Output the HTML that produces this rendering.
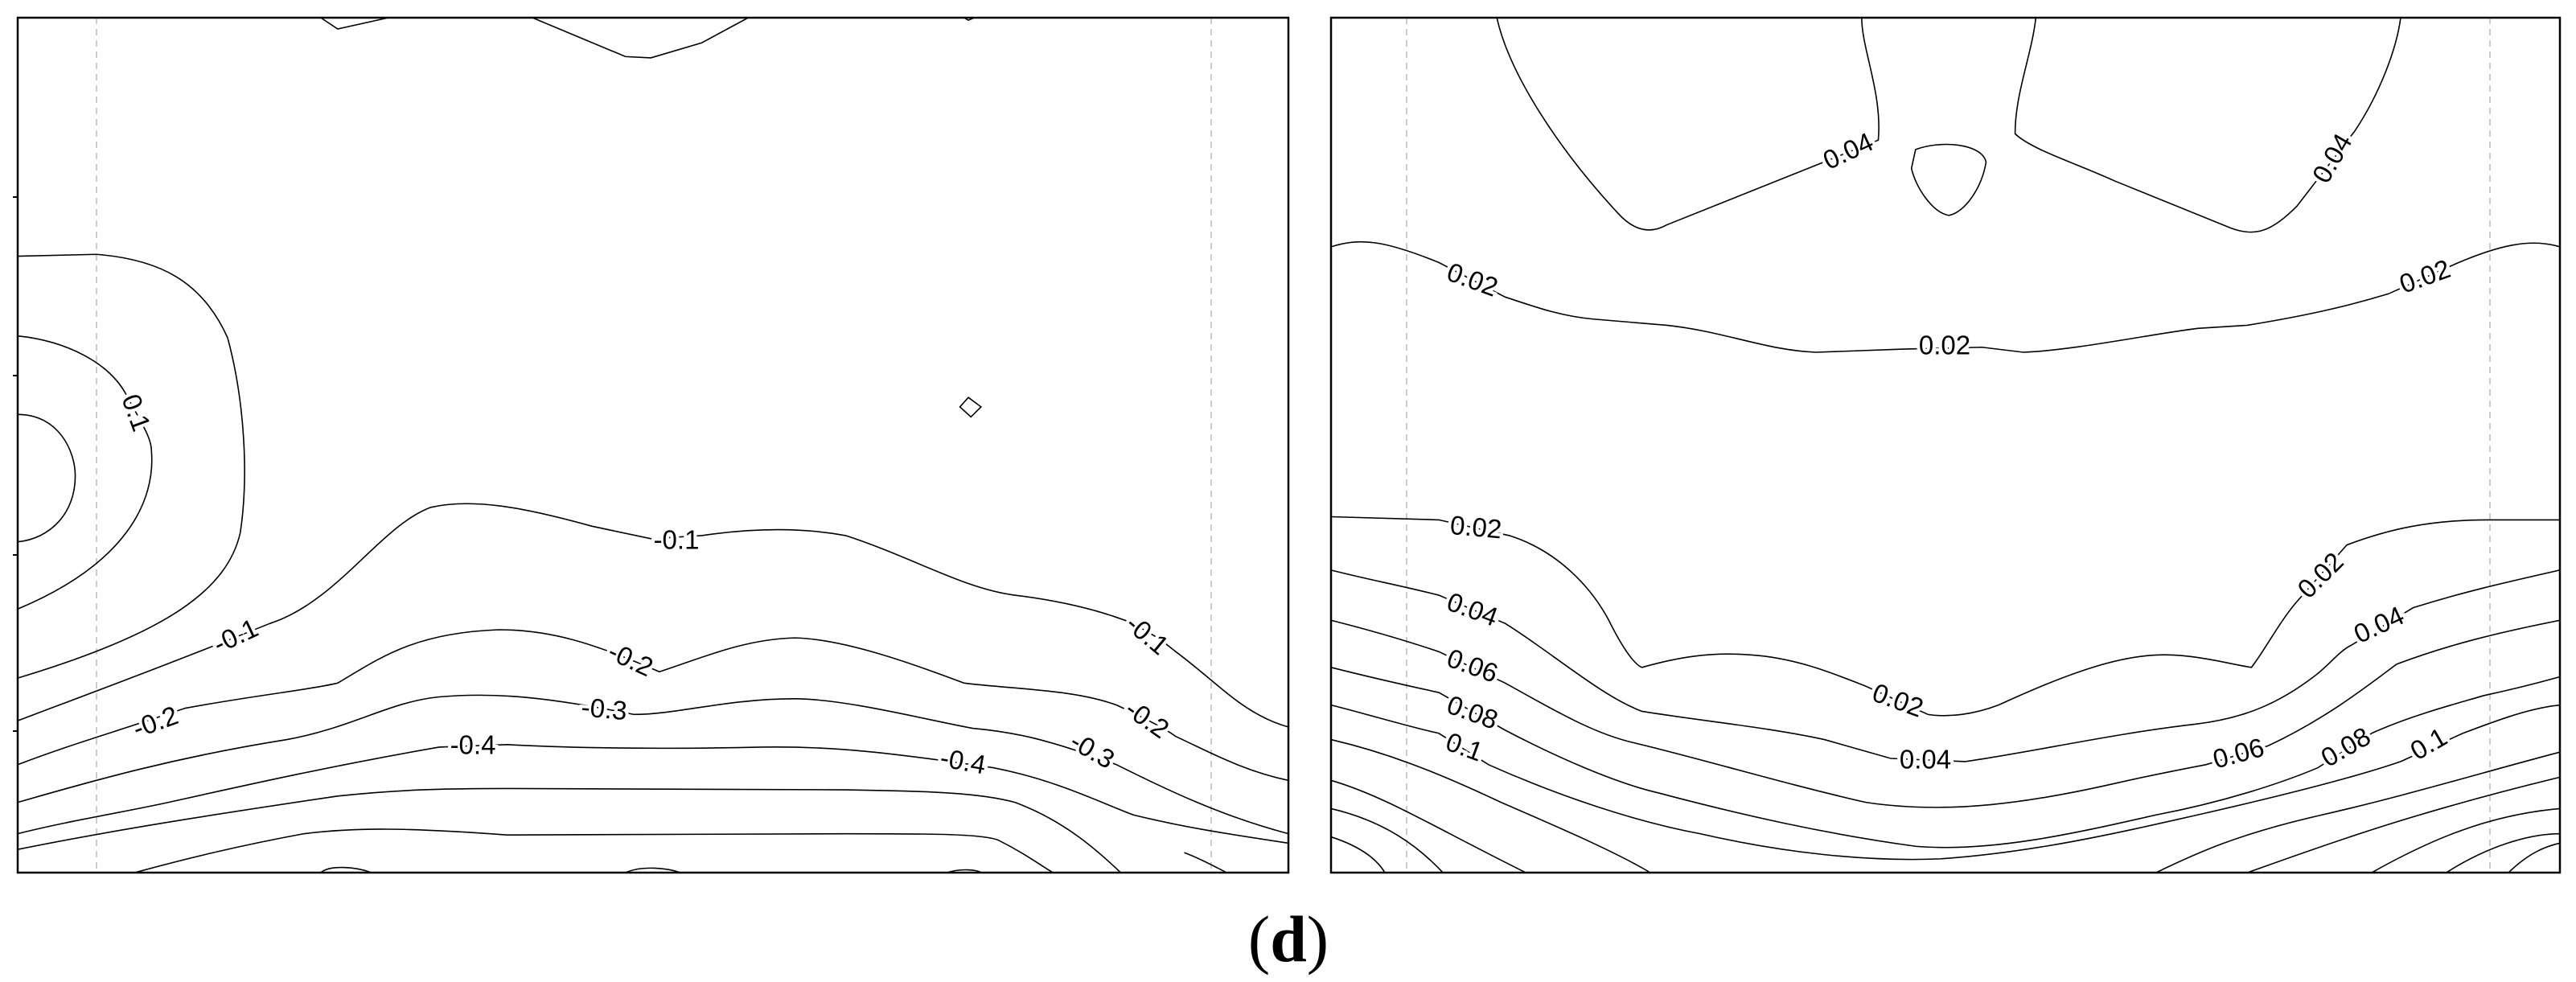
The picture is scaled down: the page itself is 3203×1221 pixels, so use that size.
<!DOCTYPE html>
<html><head><meta charset="utf-8"><style>
html,body{margin:0;padding:0;background:#fff;}
svg{display:block;}
.c{fill:none;stroke:#000;stroke-width:1.6;vector-effect:non-scaling-stroke;}
.d{stroke:#bbb;stroke-width:1.5;stroke-dasharray:8 6;}
.t{font-family:"Liberation Sans",sans-serif;font-size:33px;fill:#000;text-anchor:middle;dominant-baseline:middle;stroke:#fff;stroke-width:8px;paint-order:stroke;}
</style></head><body>
<svg width="3203" height="1221" viewBox="0 0 3203 1221" xmlns="http://www.w3.org/2000/svg">
<rect width="3203" height="1221" fill="#fff"/>
<line class="d" x1="120" y1="22" x2="120" y2="1085"/>
<line class="d" x1="1506" y1="22" x2="1506" y2="1085"/>
<line class="d" x1="1749" y1="22" x2="1749" y2="1085"/>
<line class="d" x1="3096" y1="22" x2="3096" y2="1085"/>
<g transform="translate(22,22) scale(1.0526,0.7805) translate(-22,-30)">
<path class="c" d="M380,30 L400,48 L460,30"/>
<path class="c" d="M630,30 L740,92 L770,94 L830,70 L885,30"/>
<path class="c" d="M1140,30 L1145,34 L1152,30"/>
<path class="c" d="M22,662 C70,662 90,720 90,760 C90,820 60,860 22,865"/>
<path class="c" d="M22,537 C80,545 130,580 150,630 C170,680 180,700 180,720 C185,800 150,900 22,972"/>
<path class="c" d="M22,410 L115,407 C190,415 240,450 270,540 C290,640 295,760 285,850 C270,940 200,1010 22,1082"/>
<path class="c" d="M1145,635 L1160,650 L1148,666 L1135,650 Z"/>
<path class="c" d="M22,1150 C120,1100 200,1060 320,995 C400,960 450,840 510,810 C560,795 620,810 700,840 L770,860 L830,855 C880,845 940,840 1000,855 C1080,890 1140,940 1200,950 C1260,960 1300,975 1330,990 C1370,1015 1380,1030 1390,1040 C1440,1090 1470,1140 1523,1160"/>
<path class="c" d="M22,1220 C80,1190 120,1175 220,1130 C300,1110 370,1100 400,1090 C450,1050 490,1010 590,1005 C650,1005 700,1025 780,1072 C830,1050 880,1020 940,1018 C1000,1020 1080,1060 1140,1090 C1200,1100 1270,1100 1320,1125 C1360,1150 1380,1165 1390,1175 C1430,1200 1470,1230 1523,1245"/>
<path class="c" d="M22,1280 C100,1250 200,1210 340,1180 C420,1160 460,1120 520,1112 C580,1105 640,1110 750,1140 C800,1140 860,1115 940,1115 C1000,1115 1100,1150 1150,1162 C1200,1168 1240,1180 1320,1220 C1380,1260 1440,1300 1523,1330"/>
<path class="c" d="M22,1330 C80,1310 150,1295 200,1280 C300,1250 400,1220 520,1192 L600,1188 C700,1195 800,1195 900,1192 C980,1190 1050,1200 1175,1225 C1250,1245 1300,1280 1340,1300 C1400,1320 1450,1330 1523,1345"/>
<path class="c" d="M22,1355 C150,1320 300,1290 400,1270 C470,1260 520,1258 600,1258 L1000,1260 C1100,1262 1160,1265 1200,1280 C1260,1310 1300,1360 1325,1392"/>
<path class="c" d="M160,1392 C220,1370 280,1350 360,1330 C420,1320 480,1320 600,1332 L1000,1330 C1100,1330 1160,1330 1180,1340 C1210,1360 1230,1380 1245,1392"/>
<path class="c" d="M1400,1360 C1420,1370 1440,1385 1450,1392"/>
<path class="c" d="M380,1392 C390,1380 420,1382 440,1392"/>
<path class="c" d="M740,1392 C760,1380 790,1385 805,1392"/>
<path class="c" d="M1120,1392 C1135,1385 1155,1387 1160,1392"/>
</g>
<g transform="translate(1655,22) scale(1.031,0.7805) translate(-55,-30)">
<path class="c" d="M255,30 C270,120 330,240 400,340 C420,370 440,375 460,360 L640,265 L715,225 C720,150 695,80 695,30"/>
<path class="c" d="M905,30 C900,90 880,150 880,215 C900,240 950,260 1000,290 L1140,365 C1170,380 1190,370 1220,330 L1290,210 C1320,150 1340,80 1345,30"/>
<path class="c" d="M760,240 C790,225 840,230 845,260 C840,300 820,340 800,345 C780,340 760,300 755,270 Z"/>
<path class="c" d="M55,395 C90,380 120,385 185,420 L265,475 C300,490 330,505 370,510 L460,520 C530,530 580,560 640,563 L745,558 L840,555 L890,563 C950,560 1040,535 1100,525 L1160,520 C1230,505 1280,490 1330,470 L1415,420 C1460,395 1500,380 1537,395"/>
<path class="c" d="M55,825 L185,830 L270,855 C330,880 370,940 390,990 C405,1030 420,1060 430,1065 C470,1050 510,1040 560,1045 C620,1050 670,1080 700,1095 L775,1140 C800,1145 830,1140 860,1125 C950,1070 1010,1045 1060,1045 C1100,1045 1140,1060 1165,1065 C1180,1040 1200,990 1220,960 L1280,870 C1330,845 1380,830 1450,830 L1537,830"/>
<path class="c" d="M55,910 C100,925 140,935 185,950 L265,995 C320,1040 380,1110 430,1135 C500,1150 580,1160 650,1180 L730,1210 L820,1215 C900,1200 1000,1170 1100,1155 C1160,1145 1200,1120 1240,1080 C1260,1060 1270,1040 1285,1030 L1360,970 C1420,945 1470,930 1537,910"/>
<path class="c" d="M55,990 C100,1005 140,1020 185,1040 L265,1090 C320,1130 370,1170 420,1185 C500,1210 600,1250 700,1280 C800,1300 900,1280 1000,1250 C1050,1235 1090,1225 1110,1220 L1185,1190 C1250,1150 1300,1100 1340,1060 C1400,1030 1460,1010 1537,990"/>
<path class="c" d="M55,1065 C100,1080 150,1095 185,1105 L265,1165 C330,1210 400,1250 450,1265 C550,1300 650,1330 760,1350 C850,1360 950,1330 1050,1300 C1130,1280 1200,1250 1245,1225 L1310,1170 C1360,1140 1420,1120 1445,1110 C1480,1100 1510,1090 1537,1080"/>
<path class="c" d="M55,1125 C100,1140 150,1160 185,1170 L245,1220 C330,1270 420,1310 500,1330 C600,1360 700,1375 790,1370 C900,1360 1000,1330 1100,1300 C1200,1270 1290,1240 1345,1215 L1420,1170 C1460,1150 1500,1130 1537,1125"/>
<path class="c" d="M55,1180 C120,1200 180,1230 260,1280 C330,1320 400,1360 440,1392"/>
<path class="c" d="M55,1245 C120,1270 180,1320 290,1392"/>
<path class="c" d="M55,1290 C120,1310 160,1350 190,1392"/>
<path class="c" d="M55,1335 C90,1350 110,1370 120,1392"/>
<path class="c" d="M1050,1392 C1100,1360 1150,1330 1250,1300 C1350,1270 1450,1230 1537,1200"/>
<path class="c" d="M1160,1392 C1250,1350 1350,1300 1537,1240"/>
<path class="c" d="M1310,1392 C1380,1340 1450,1300 1537,1290"/>
<path class="c" d="M1400,1392 C1450,1350 1500,1330 1537,1330"/>
<path class="c" d="M1475,1392 C1500,1360 1520,1350 1537,1345"/>
</g>
<rect x="22" y="22" width="1580" height="1063" fill="none" stroke="#000" stroke-width="2.5"/>
<rect x="1655" y="22" width="1528" height="1063" fill="none" stroke="#000" stroke-width="2.5"/>
<g stroke="#000" stroke-width="2">
<line x1="16" y1="245" x2="22" y2="245"/><line x1="16" y1="467" x2="22" y2="467"/><line x1="16" y1="690" x2="22" y2="690"/><line x1="16" y1="909" x2="22" y2="909"/>
</g>
<g class="t">
<text x="167" y="514" transform="rotate(70 167 514)">0.1</text>
<text x="294" y="793" transform="rotate(-25 294 793)">-0.1</text>
<text x="841" y="674">-0.1</text>
<text x="1425" y="791" transform="rotate(40 1425 791)">-0.1</text>
<text x="194" y="900" transform="rotate(-20 194 900)">-0.2</text>
<text x="783" y="822" transform="rotate(25 783 822)">-0.2</text>
<text x="1425" y="896" transform="rotate(35 1425 896)">-0.2</text>
<text x="751" y="884" transform="rotate(5 751 884)">-0.3</text>
<text x="1357" y="935" transform="rotate(30 1357 935)">-0.3</text>
<text x="588" y="929">-0.4</text>
<text x="1197" y="949" transform="rotate(10 1197 949)">-0.4</text>
<text x="2299" y="190" transform="rotate(-25 2299 190)">0.04</text>
<text x="2902" y="198" transform="rotate(-60 2902 198)">0.04</text>
<text x="1830" y="350" transform="rotate(20 1830 350)">0.02</text>
<text x="2418" y="432">0.02</text>
<text x="3016" y="346" transform="rotate(-20 3016 346)">0.02</text>
<text x="1835" y="658" transform="rotate(5 1835 658)">0.02</text>
<text x="2359" y="873" transform="rotate(20 2359 873)">0.02</text>
<text x="2887" y="717" transform="rotate(-45 2887 717)">0.02</text>
<text x="1830" y="760" transform="rotate(20 1830 760)">0.04</text>
<text x="2394" y="947">0.04</text>
<text x="2959" y="779" transform="rotate(-25 2959 779)">0.04</text>
<text x="1830" y="830" transform="rotate(20 1830 830)">0.06</text>
<text x="2784" y="939" transform="rotate(-15 2784 939)">0.06</text>
<text x="1830" y="888" transform="rotate(20 1830 888)">0.08</text>
<text x="2918" y="931" transform="rotate(-30 2918 931)">0.08</text>
<text x="1820" y="931" transform="rotate(20 1820 931)">0.1</text>
<text x="3021" y="927" transform="rotate(-30 3021 927)">0.1</text>
</g>
<text x="1602" y="1195" text-anchor="middle" font-family="'Liberation Serif',serif" font-size="82" fill="#000">(<tspan font-weight="bold">d</tspan>)</text>
</svg>
</body></html>
